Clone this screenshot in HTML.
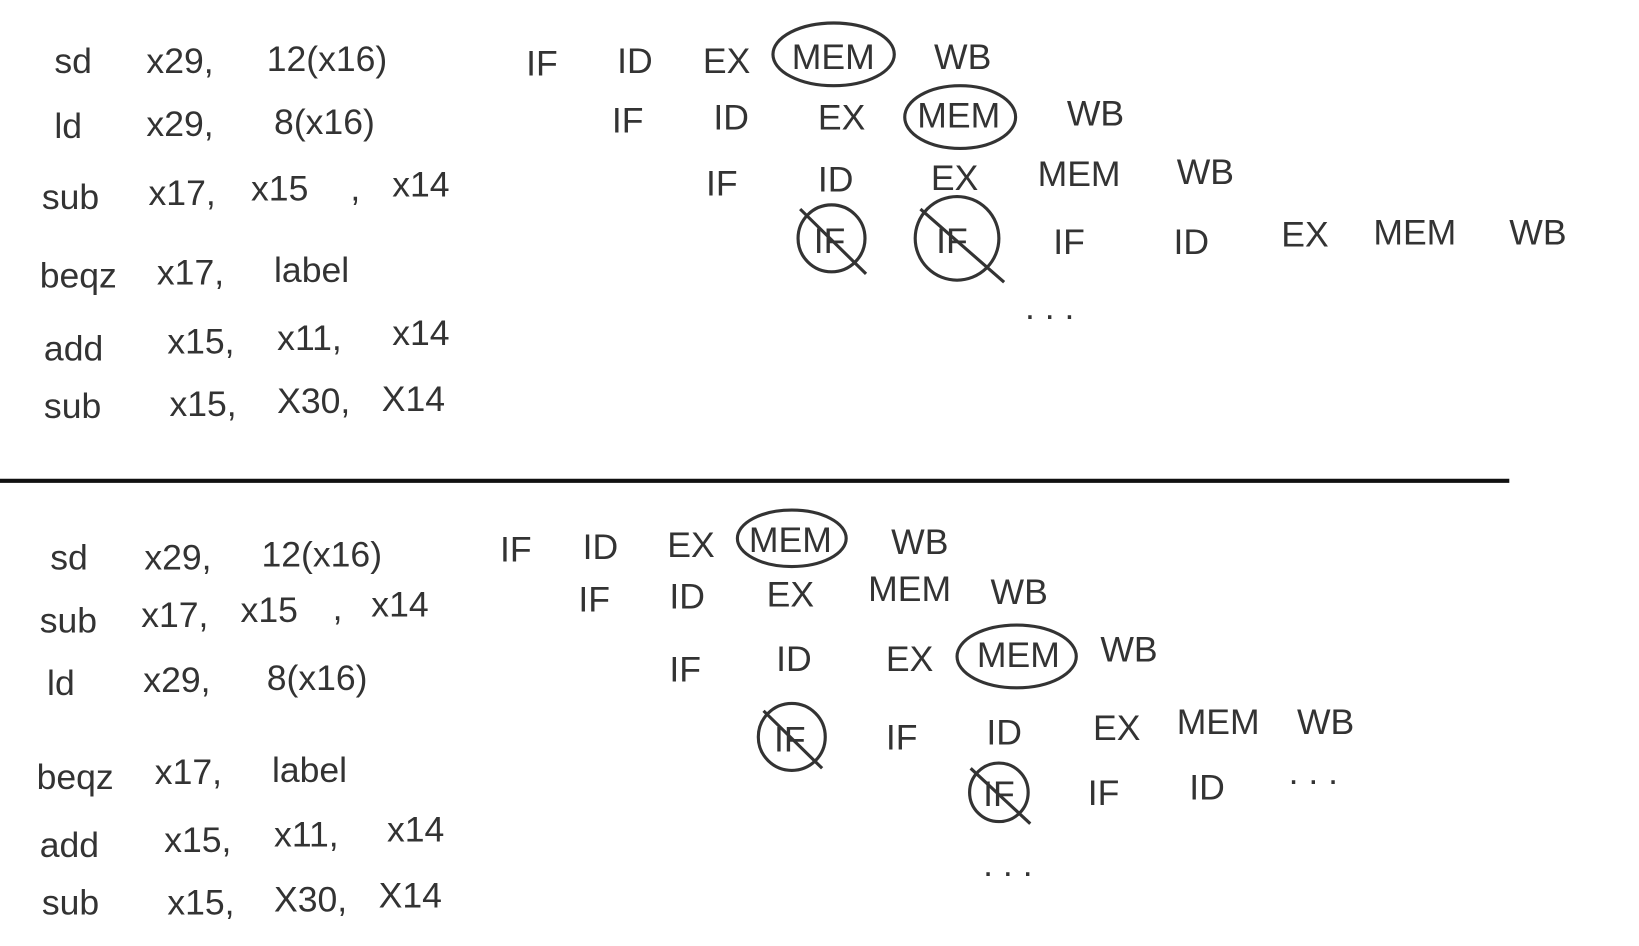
<!DOCTYPE html>
<html><head><meta charset="utf-8"><style>
html,body{margin:0;padding:0;background:#fff;}
svg{display:block}
text{font-family:"Liberation Sans",sans-serif;font-size:34px;fill:#333;}
</style></head><body>
<svg width="1639" height="946" viewBox="0 0 1567 905" preserveAspectRatio="none" xmlns="http://www.w3.org/2000/svg">
<rect width="1567" height="905" fill="#fff"/>
<g>
<!-- top left -->
<text x="52" y="70">sd</text><text x="140" y="70">x29,</text><text x="255" y="68">12(x16)</text>
<text x="52" y="132">ld</text><text x="140" y="130">x29,</text><text x="262" y="128">8(x16)</text>
<text x="40" y="200">sub</text><text x="142" y="196">x17,</text><text x="240" y="192">x15</text><text x="335" y="192">,</text><text x="375" y="188">x14</text>
<text x="38" y="275">beqz</text><text x="150" y="272">x17,</text><text x="262" y="270">label</text>
<text x="42" y="345">add</text><text x="160" y="338">x15,</text><text x="265" y="335">x11,</text><text x="375" y="330">x14</text>
<text x="42" y="400">sub</text><text x="162" y="398">x15,</text><text x="265" y="395">X30,</text><text x="365" y="393">X14</text>

<!-- top right -->
<text x="503" y="72">IF</text><text x="590" y="70">ID</text><text x="672" y="70">EX</text><text x="757" y="66">MEM</text><text x="893" y="66">WB</text>
<ellipse cx="797" cy="52" rx="58" ry="30" fill="none" stroke="#333" stroke-width="3"/>
<text x="585" y="127">IF</text><text x="682" y="124">ID</text><text x="782" y="124">EX</text><text x="877" y="122">MEM</text><text x="1020" y="120">WB</text>
<ellipse cx="918" cy="112" rx="53" ry="30" fill="none" stroke="#333" stroke-width="3"/>
<text x="675" y="187">IF</text><text x="782" y="183">ID</text><text x="890" y="182">EX</text><text x="992" y="178">MEM</text><text x="1125" y="176">WB</text>
<circle cx="795" cy="228" r="32" fill="none" stroke="#333" stroke-width="3"/><text x="778" y="242">IF</text>
<line x1="765" y1="200" x2="828" y2="262" stroke="#333" stroke-width="3"/>
<circle cx="915" cy="228" r="40" fill="none" stroke="#333" stroke-width="3"/><text x="895" y="242">IF</text>
<line x1="880" y1="200" x2="960" y2="270" stroke="#333" stroke-width="3"/>
<text x="1007" y="243">IF</text><text x="1122" y="243">ID</text><text x="1225" y="236">EX</text><text x="1313" y="234">MEM</text><text x="1443" y="234">WB</text>
<text x="980" y="305">. . .</text>

<line x1="0" y1="460" x2="1443" y2="460" stroke="#111" stroke-width="4"/>

<!-- bottom left -->
<text x="48" y="545">sd</text><text x="138" y="545">x29,</text><text x="250" y="542">12(x16)</text>
<text x="38" y="605">sub</text><text x="135" y="600">x17,</text><text x="230" y="595">x15</text><text x="318" y="593">,</text><text x="355" y="590">x14</text>
<text x="45" y="665">ld</text><text x="137" y="662">x29,</text><text x="255" y="660">8(x16)</text>
<text x="35" y="755">beqz</text><text x="148" y="750">x17,</text><text x="260" y="748">label</text>
<text x="38" y="820">add</text><text x="157" y="815">x15,</text><text x="262" y="810">x11,</text><text x="370" y="805">x14</text>
<text x="40" y="875">sub</text><text x="160" y="875">x15,</text><text x="262" y="872">X30,</text><text x="362" y="868">X14</text>

<!-- bottom right -->
<text x="478" y="537">IF</text><text x="557" y="535">ID</text><text x="638" y="533">EX</text><text x="716" y="528">MEM</text><text x="852" y="530">WB</text>
<ellipse cx="757" cy="515" rx="52" ry="27" fill="none" stroke="#333" stroke-width="3"/>
<text x="553" y="585">IF</text><text x="640" y="582">ID</text><text x="733" y="580">EX</text><text x="830" y="575">MEM</text><text x="947" y="578">WB</text>
<text x="640" y="652">IF</text><text x="742" y="642">ID</text><text x="847" y="642">EX</text><text x="934" y="638">MEM</text><text x="1052" y="633">WB</text>
<ellipse cx="972" cy="628" rx="57" ry="30" fill="none" stroke="#333" stroke-width="3"/>
<circle cx="757" cy="705" r="32" fill="none" stroke="#333" stroke-width="3"/><text x="740" y="719">IF</text>
<line x1="730" y1="680" x2="786" y2="735" stroke="#333" stroke-width="3"/>
<text x="847" y="717">IF</text><text x="943" y="712">ID</text><text x="1045" y="708">EX</text><text x="1125" y="702">MEM</text><text x="1240" y="702">WB</text>
<circle cx="955" cy="758" r="28" fill="none" stroke="#333" stroke-width="3"/><text x="940" y="771">IF</text>
<line x1="928" y1="735" x2="985" y2="788" stroke="#333" stroke-width="3"/>
<text x="1040" y="770">IF</text><text x="1137" y="765">ID</text><text x="1232" y="750">. . .</text>
<text x="940" y="838">. . .</text>
</g>
</svg>
</body></html>
